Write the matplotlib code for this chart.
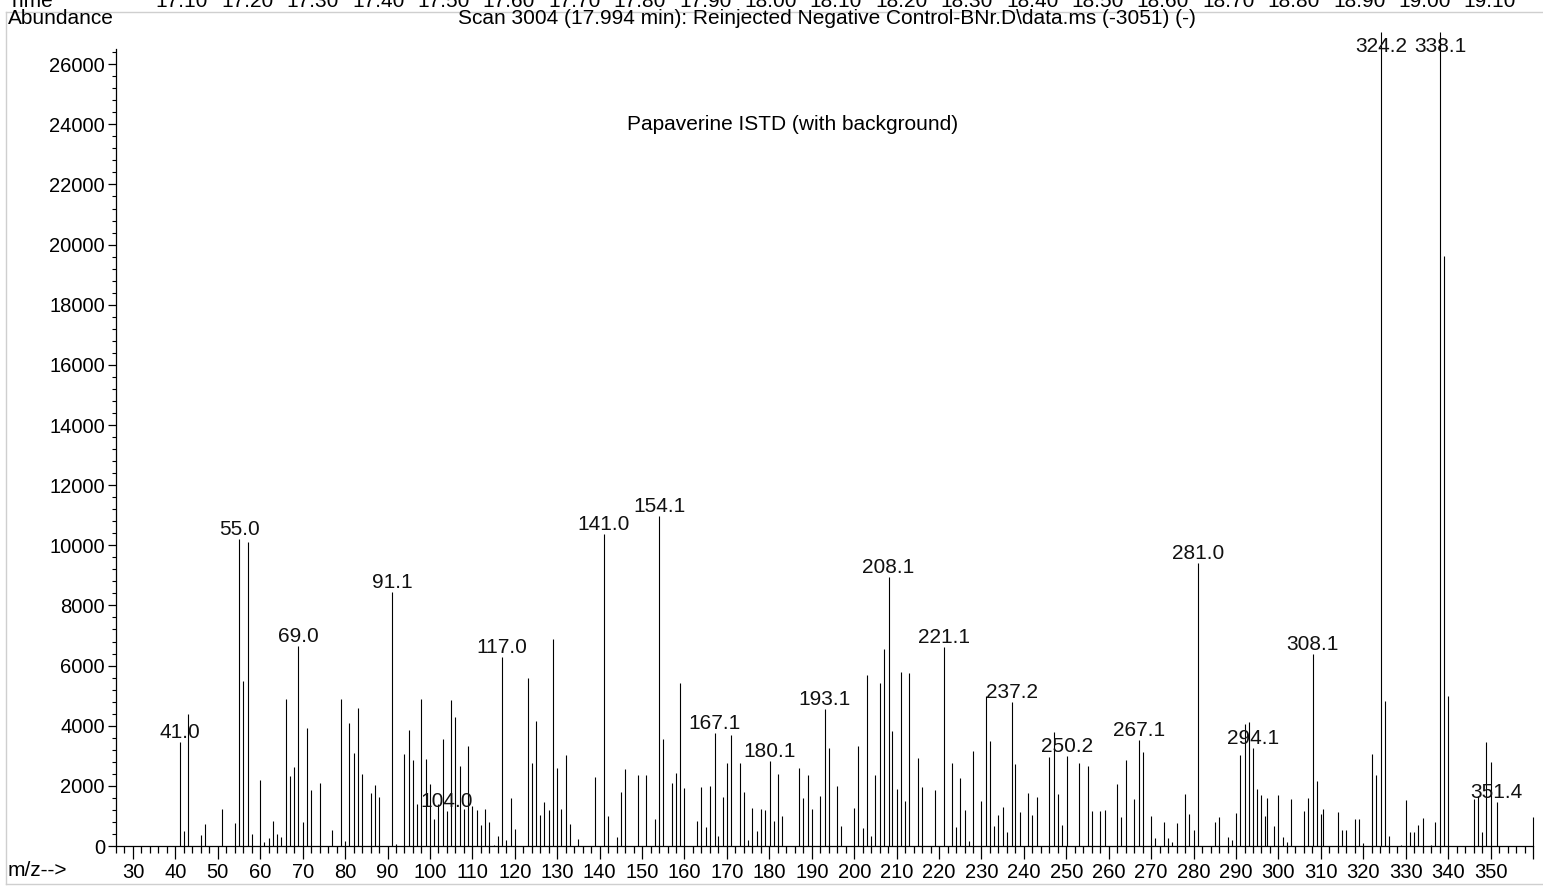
import matplotlib
matplotlib.use('Agg')
import matplotlib.pyplot as plt
from matplotlib.ticker import MultipleLocator, FixedLocator
from matplotlib.lines import Line2D

plt.rcParams['font.family'] = ['Liberation Sans', 'DejaVu Sans']

# ---- data -------------------------------------------------------------
mz = [41.0, 42, 43, 46, 47, 51, 54, 55.0, 56, 57, 58, 60, 61, 62, 63, 64, 65,
      66, 67, 68, 69.0, 70, 71, 72, 74, 77, 79, 80, 81, 82, 83, 84, 86, 87, 88,
      91.1, 92, 94, 95, 96, 97, 98, 99, 100, 101, 102, 103, 104.0, 105, 106,
      107, 108, 109, 110, 111, 112, 113, 114, 115, 116, 117.0, 118, 119, 120,
      123, 124, 125, 126, 127, 128, 129, 130, 131, 132, 133, 135, 139, 141.0,
      142, 144, 145, 146, 149, 151, 153, 154.1, 155, 157, 158, 159, 160, 163,
      164, 165, 166, 167.1, 168, 169, 170, 171, 173, 174, 175, 176, 177, 178,
      179, 180.1, 181, 182, 183, 187, 188, 189, 190, 192, 193.1, 194, 196, 197,
      200, 201, 202, 203, 204, 205, 206, 207, 208.1, 209, 210, 211, 212, 213,
      215, 216, 219, 221.1, 223, 224, 225, 226, 227, 228, 230, 231, 232, 233,
      234, 235, 236, 237.2, 238, 239, 241, 242, 243, 246, 247, 248, 249, 250.2,
      253, 255, 256, 258, 259, 262, 263, 264, 266, 267.1, 268, 270, 271, 273,
      274, 275, 276, 278, 279, 280, 281.0, 285, 286, 288, 289, 290, 291, 292,
      293, 294.1, 295, 296, 296.8, 297.3, 299, 300, 301, 302, 303, 306, 307,
      308.1, 309, 310, 310.5, 314, 315, 316, 318, 319, 320, 322, 323, 324.2,
      325, 326, 329, 330, 331, 332, 333, 334, 336, 337, 338.1, 339, 340, 346,
      347, 348, 349, 350, 351.4, 360]
abundance = [3450, 500, 4390, 370, 740, 1230, 775, 10200, 5490, 10110, 410,
             2190, 120, 270, 840, 400, 310, 4890, 2330, 2630, 6660, 790, 3910,
             1860, 2100, 530, 4880, 160, 4090, 3100, 4580, 2380, 1760, 2040,
             1640, 8435, 55, 3060, 3850, 2860, 1390, 4900, 2900, 2060, 910,
             1400, 3550, 1160, 4840, 4290, 2650, 1220, 3340, 1330, 1200, 710,
             1240, 800, 30, 330, 6300, 210, 1610, 550, 5580, 2760, 4160, 1040,
             1470, 1210, 6880, 2600, 1240, 3040, 740, 230, 2300, 10385, 1010,
             290, 1800, 2550, 2360, 2360, 900, 10980, 3550, 2100, 2430, 5410,
             1920, 820, 1960, 630, 2010, 3760, 340, 1640, 2770, 3690, 2770,
             1800, 200, 1280, 490, 1220, 1210, 2830, 830, 2390, 1000, 2580,
             1590, 2360, 1230, 1670, 4570, 3250, 1980, 680, 1250, 3310, 590,
             5700, 330, 2360, 5430, 6550, 8930, 3840, 1880, 5790, 1500, 5750,
             2940, 1950, 1850, 6610, 2760, 620, 2250, 1200, 180, 3160, 1490,
             4990, 3500, 665, 1020, 1290, 480, 4800, 2720, 1120, 1760, 1040,
             1630, 2960, 3790, 1720, 700, 3000, 2770, 2670, 1150, 1160, 1210,
             2050, 960, 2850, 1560, 3530, 3130, 1000, 280, 810, 280, 140, 780,
             1740, 1060, 530, 9410, 790, 960, 300, 200, 1110, 3030, 4060, 4140,
             3250, 1880, 1700, 1000, 1600, 680, 1690, 290, 120, 1560, 1180,
             1610, 6370, 2150, 1060, 1230, 1120, 520, 530, 910, 910, 100, 3070,
             2360, 27070, 4830, 340, 30, 1520, 480, 470, 710, 920, 40, 790,
             27070, 19620, 5000, 1560, 1660, 480, 3460, 2790, 1470, 960]

label_mz = [41.0, 55.0, 69.0, 91.1, 104.0, 117.0, 141.0, 154.1, 167.1, 180.1,
            193.1, 208.1, 221.1, 237.2, 250.2, 267.1, 281.0, 294.1, 308.1,
            324.2, 338.1, 351.4]
time_labels = ['17.10', '17.20', '17.30', '17.40', '17.50', '17.60', '17.70',
               '17.80', '17.90', '18.00', '18.10', '18.20', '18.30', '18.40',
               '18.50', '18.60', '18.70', '18.80', '18.90', '19.00', '19.10']
x_tick_values = list(range(30, 361, 10))
y_tick_values = list(range(0, 26001, 2000))

# ---- figure -----------------------------------------------------------
W, H = 1543, 888
FS = 15
TFS = 14.5
fig = plt.figure(figsize=(W / 100, H / 100), dpi=100)
fig.patch.set_facecolor('white')

def fx(px):
    return px / W

def fy(py):
    return 1 - py / H

ax_left, ax_right, ax_bottom, ax_top = 116, 1533, 846, 32
ax = fig.add_axes([fx(ax_left), fy(ax_bottom), (ax_right - ax_left) / W,
                   (ax_bottom - ax_top) / H])
ymax = 27070
ax.set_xlim(26, 360)
ax.set_ylim(0, ymax)

ax.vlines(mz, 0, abundance, colors='black', linewidth=0.8, clip_on=False)

lookup = dict(zip(mz, abundance))
for m in label_mz:
    h = lookup[m]
    if h >= ymax:
        ax.annotate(f'{m:.1f}', xy=(m, ymax), xytext=(0, -20),
                    textcoords='offset pixels', ha='center', va='baseline',
                    fontsize=FS, color='#111111')
    else:
        ax.annotate(f'{m:.1f}', xy=(m, h), xytext=(0, 4),
                    textcoords='offset pixels', ha='center', va='baseline',
                    fontsize=FS, color='#111111')

# axes styling
for s in ('top', 'right'):
    ax.spines[s].set_visible(False)
ax.spines['left'].set_bounds(0, 26500)
ax.spines['left'].set_linewidth(0.9)
ax.spines['bottom'].set_linewidth(0.9)

ax.set_yticks(y_tick_values)
ax.yaxis.set_minor_locator(FixedLocator(list(range(0, 26500, 400))))
ax.set_xticks(x_tick_values)
ax.set_xticklabels([str(v) if v <= 350 else '' for v in x_tick_values])
ax.xaxis.set_minor_locator(MultipleLocator(2))
ax.tick_params(axis='x', which='major', direction='out', length=9, width=0.9,
               labelsize=TFS, pad=3)
ax.tick_params(axis='x', which='minor', direction='out', length=5, width=0.9)
ax.tick_params(axis='y', which='major', direction='out', length=6, width=0.9,
               labelsize=TFS, pad=2)
ax.tick_params(axis='y', which='minor', direction='out', length=3, width=0.8)
ax.set_facecolor('white')

# texts
fig.text(fx(8), fy(18), 'Abundance', fontsize=FS, ha='left', va='center')
fig.text(fx(827), fy(18),
         'Scan 3004 (17.994 min): Reinjected Negative Control-BNr.D\\data.ms (-3051) (-)',
         fontsize=FS, ha='center', va='center')
fig.text(fx(793), fy(125), 'Papaverine ISTD (with background)', fontsize=FS,
         ha='center', va='center')
fig.text(fx(8), fy(870), 'm/z-->', fontsize=FS, ha='left', va='center')

# clipped time header (only lower part visible, as in the reference)
fig.text(fx(8), fy(7), 'Time', fontsize=FS, ha='left', va='baseline')
for i, t in enumerate(time_labels):
    fig.text(fx(182 + i * 65.4), fy(7), t, fontsize=FS, ha='center',
             va='baseline')

# light frame
frame_c = '#cfcfcf'
fig.add_artist(Line2D([fx(6), 1], [fy(12), fy(12)], color=frame_c, lw=1,
                      transform=fig.transFigure))
fig.add_artist(Line2D([fx(6), fx(6)], [fy(12), fy(884)], color=frame_c, lw=1,
                      transform=fig.transFigure))
fig.add_artist(Line2D([fx(6), 1], [fy(884), fy(884)], color=frame_c, lw=1,
                      transform=fig.transFigure))

fig.savefig('out.png', dpi=100, facecolor='white')
